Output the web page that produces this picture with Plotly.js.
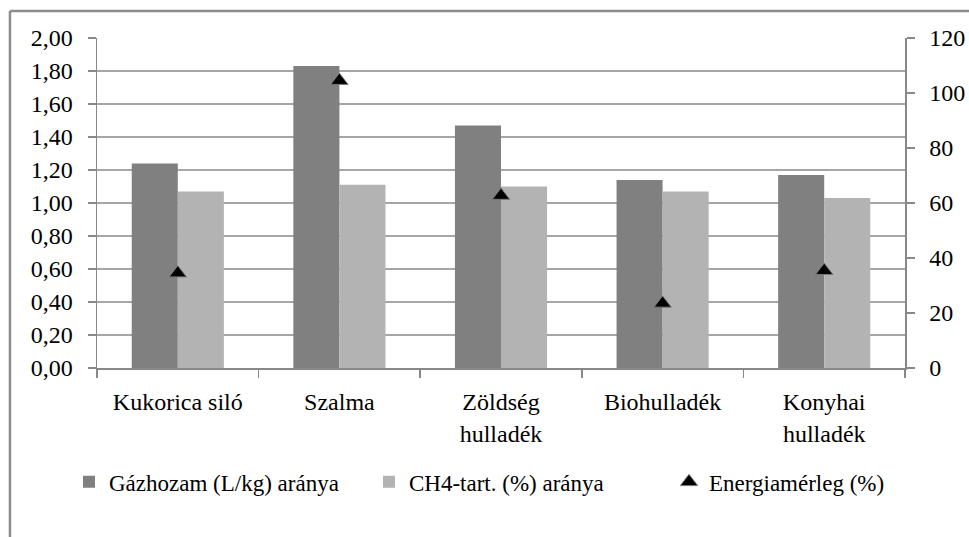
<!DOCTYPE html>
<html>
<head>
<meta charset="utf-8">
<script src="https://cdn.plot.ly/plotly-3.0.1.min.js"></script>
<style>
#chart text { font-family: 'Liberation Serif', 'Times New Roman', serif !important; }
</style>
</head>
<body style="margin:0">
<div id="chart" style="width:969px;height:537px"></div>
<script>
const categories = ['Kukorica siló', 'Szalma', 'Zöldség<br>hulladék', 'Biohulladék', 'Konyhai<br>hulladék'];
const gazhozam = [1.24, 1.83, 1.47, 1.14, 1.17];
const ch4 = [1.07, 1.11, 1.10, 1.07, 1.03];
const energia = [34.5, 104.5, 62.7, 23.5, 35.4];
const seriesNames = ['Gázhozam (L/kg) aránya', 'CH4-tart. (%) aránya', 'Energiamérleg (%)'];
const leftTickVals = [0, 0.2, 0.4, 0.6, 0.8, 1.0, 1.2, 1.4, 1.6, 1.8, 2.0];
const leftTickText = ['0,00', '0,20', '0,40', '0,60', '0,80', '1,00', '1,20', '1,40', '1,60', '1,80', '2,00'];

const FAM = 'Liberation Serif';
const traces = [
  {type: 'bar', x: categories, y: gazhozam, name: seriesNames[0],
   marker: {color: '#808080'}, yaxis: 'y'},
  {type: 'bar', x: categories, y: ch4, name: seriesNames[1],
   marker: {color: '#b3b3b3'}, yaxis: 'y'},
  {type: 'scatter', mode: 'markers', x: categories, y: energia, name: seriesNames[2],
   marker: {symbol: 'triangle-up', size: 15, color: '#000000', line: {color: '#777777', width: 1}}, yaxis: 'y2'}
];

const layout = {
  width: 969, height: 537,
  margin: {l: 97, r: 64, t: 38, b: 169},
  font: {family: FAM, size: 24, color: '#000000'},
  barmode: 'group', bargap: 0.43, bargroupgap: 0,
  showlegend: true,
  legend: {orientation: 'h', x: -0.007, xanchor: 'left', y: -0.28, yanchor: 'top',
           entrywidth: 255, font: {family: FAM, size: 23, color: '#000000'}},
  xaxis: {type: 'category', showgrid: false, showline: true, linecolor: '#888888', linewidth: 1.5,
          ticks: 'outside', tickson: 'boundaries', ticklen: 8, tickcolor: '#888888', tickwidth: 1.5,
          ticklabelstandoff: 12, tickfont: {family: FAM, size: 24, color: '#000000'}},
  yaxis: {range: [0, 2], tickvals: leftTickVals, ticktext: leftTickText,
          showgrid: true, gridcolor: '#a6a6a6', gridwidth: 1.5,
          showline: true, linecolor: '#888888', linewidth: 1.5, ticks: 'outside', ticklen: 8,
          tickcolor: '#888888', tickwidth: 1.5, zeroline: false, ticklabelstandoff: 10,
          tickfont: {family: FAM, size: 24, color: '#000000'}},
  yaxis2: {range: [0, 120], dtick: 20, overlaying: 'y', side: 'right', showgrid: false,
           showline: true, linecolor: '#888888', linewidth: 1.5, ticks: 'outside', ticklen: 8,
           tickcolor: '#888888', tickwidth: 1.5, zeroline: false, ticklabelstandoff: 10,
           tickfont: {family: FAM, size: 24, color: '#000000'}},
  shapes: [
    {type: 'line', xref: 'paper', yref: 'paper', x0: -0.1077, x1: 1.1, y0: 1.082, y1: 1.082,
     line: {color: '#8c8c8c', width: 2.5}},
    {type: 'line', xref: 'paper', yref: 'paper', x0: -0.1077, x1: -0.1077, y0: 1.082, y1: -0.6,
     line: {color: '#8c8c8c', width: 2.5}}
  ]
};

Plotly.newPlot('chart', traces, layout, {staticPlot: true});
</script>
</body>
</html>
